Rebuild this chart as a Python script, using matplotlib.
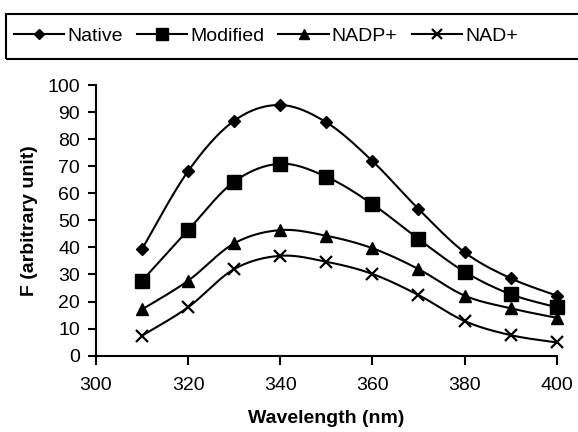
import numpy as np
import matplotlib
matplotlib.use("Agg")
import matplotlib.pyplot as plt
from matplotlib.patches import Rectangle

plt.rcParams['font.family'] = ['Liberation Sans', 'DejaVu Sans']

wavelength = [310, 320, 330, 340, 350, 360, 370, 380, 390, 400]
native = [39.4, 68.2, 86.8, 92.6, 86.2, 71.9, 54.2, 38.2, 28.6, 22.2]
modified = [27.7, 46.4, 64.3, 70.9, 66.1, 56.0, 43.1, 31.0, 22.7, 17.9]
nadp = [17.1, 27.7, 41.5, 46.4, 44.3, 39.7, 32.0, 22.2, 17.5, 14.0]
nad = [7.4, 17.9, 32.0, 36.9, 34.7, 30.2, 22.4, 12.8, 7.6, 4.9]
series_names = ["Native", "Modified", "NADP+", "NAD+"]
xticks = [300, 320, 340, 360, 380, 400]
yticks = list(range(0, 101, 10))


def smooth(xs, ys, n=30):
    P = np.column_stack([xs, ys]).astype(float)
    Pe = np.vstack([P[0], P, P[-1]])
    out = []
    t = np.linspace(0, 1, n)[:, None]
    for i in range(len(P) - 1):
        p0, p3 = P[i], P[i + 1]
        c1 = p0 + (Pe[i + 2] - Pe[i]) / 6.0
        c2 = p3 - (Pe[i + 3] - Pe[i + 1]) / 6.0
        seg = ((1 - t) ** 3) * p0 + 3 * ((1 - t) ** 2) * t * c1 + 3 * (1 - t) * t ** 2 * c2 + t ** 3 * p3
        out.append(seg if i == 0 else seg[1:])
    out = np.vstack(out)
    return out[:, 0], out[:, 1]


W, H = 578, 432
fig = plt.figure(figsize=(W / 100, H / 100), dpi=100)
ax = fig.add_axes([96 / W, 1 - 355.7 / H, (556.7 - 96) / W, (355.7 - 85) / H])

styles = [dict(marker="D", ms=6.5), dict(marker="s", ms=9.5),
          dict(marker="^", ms=8), dict(marker="x", ms=9, mew=1.6)]
handles = []
for ys, st, name in zip([native, modified, nadp, nad], styles, series_names):
    sx, sy = smooth(wavelength, ys)
    ax.plot(sx, sy, color="black", lw=1.5, zorder=3)
    ax.plot(wavelength, ys, linestyle="none", color="black", zorder=4, clip_on=False, **st)
    h, = ax.plot([], [], color="black", lw=1.5, **st)
    handles.append(h)

ax.set_xlim(300, 400)
ax.set_ylim(0, 100)
ax.set_xticks(xticks)
ax.set_yticks(yticks)
for s in ["top", "right"]:
    ax.spines[s].set_visible(False)
for s in ["left", "bottom"]:
    ax.spines[s].set_linewidth(1.5)
ax.spines["bottom"].set_zorder(5)
ax.tick_params(axis="both", direction="out", width=1.5, labelsize=14, colors="black")
ax.tick_params(axis="x", length=6.5, pad=8.5)
ax.tick_params(axis="y", length=5.5, pad=6)
ax.set_xlabel("Wavelength (nm)", fontsize=14, fontweight="bold", labelpad=12)
ax.set_ylabel("F (arbitrary unit)", fontsize=14, fontweight="bold", labelpad=7)

# legend frame (extends past right edge as in reference)
fig.patches.append(Rectangle((6 / W, 1 - 59 / H), 600 / W, 45 / H, transform=fig.transFigure,
                             fill=False, edgecolor="black", linewidth=1.5))
leg = fig.legend(handles, series_names, loc="center left", bbox_to_anchor=(6 / W, 1 - 36.5 / H),
                 ncol=4, fontsize=14, handlelength=2.6, handletextpad=0.15, columnspacing=0.72,
                 frameon=False, borderpad=0.4, borderaxespad=0, markerscale=0.85)

fig.savefig("out.png", dpi=100)
